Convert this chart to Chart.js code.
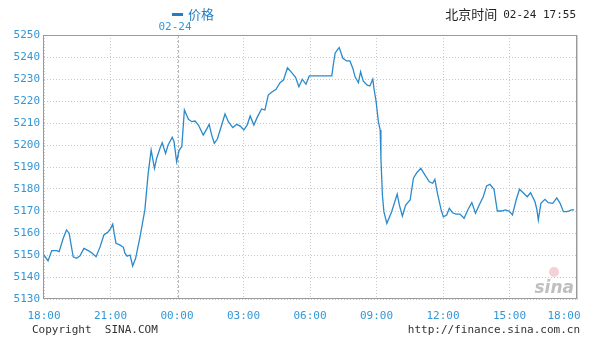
<!DOCTYPE html>
<html><head><meta charset="utf-8">
<script src="https://cdn.jsdelivr.net/npm/chart.js@4"></script>
<style>html,body{margin:0;padding:0;background:#fff}canvas{display:block}</style>
</head><body>
<canvas id="c" width="593" height="339"></canvas>
<script>
const seriesName = '价格';
const dateLabel = '02-24';
const headerText = '北京时间';
const headerTime = '02-24 17:55';
const xTickLabels = ['18:00','21:00','00:00','03:00','06:00','09:00','12:00','15:00','18:00'];
const yTicks = [5130,5140,5150,5160,5170,5180,5190,5200,5210,5220,5230,5240,5250];
const times = ['18:00','18:11','18:21','18:34','18:41','18:52','19:01','19:08','19:19','19:28','19:37','19:48','20:00','20:09','20:21','20:32','20:42','20:54','21:00','21:06','21:10','21:15','21:26','21:35','21:39','21:45','21:53','22:00','22:08','22:20','22:33','22:42','22:50','22:59','23:05','23:14','23:20','23:29','23:36','23:47','23:52','23:59',
'00:06','00:13','00:20','00:31','00:40','00:49','00:58','01:11','01:20','01:27','01:34','01:41','01:49','02:01','02:10','02:19','02:31','02:42','02:51','03:01','03:10','03:18','03:28','03:38','03:49','03:58','04:07','04:16','04:28','04:39','04:48','04:59','05:10','05:21','05:30','05:39','05:49','05:58','06:59','07:03','07:08','07:14','07:19','07:23','07:29','07:39','07:48','07:56','08:02','08:11','08:17','08:24','08:34','08:42','08:50','08:53','08:59','09:05','09:10','09:12','09:16','09:20','09:28','09:41','09:56','10:02','10:10','10:19','10:31','10:40','10:49','11:00','11:11','11:23','11:32','11:38','11:45','11:55','12:01','12:10','12:17','12:26','12:35','12:46','12:57','13:08','13:18','13:28','13:38','13:49','13:58','14:07','14:18','14:27','14:39','14:48','14:59','15:08','15:18','15:27','15:37','15:48','15:57','16:09','16:14','16:18','16:25','16:36','16:45','16:57','17:08','17:17','17:26','17:35','17:42','17:48','17:55'];
const prices = [5150,5147.3,5152,5152,5151.5,5157.6,5161.4,5159.9,5149.2,5148.5,5149.5,5153,5152,5151,5149.2,5153.8,5159.1,5160.6,5162,5164,5159.8,5155.3,5154.5,5153.5,5150.8,5149.5,5150,5145,5148.5,5158.3,5170.5,5187.1,5197.7,5189.4,5194,5198.5,5201,5196.2,5200,5203.5,5201.5,5192.4,
5197.7,5199.2,5215.9,5211.7,5210.6,5210.9,5209.1,5204.5,5207.1,5209.4,5204.5,5200.8,5202.6,5209.1,5214.1,5210.6,5207.9,5209.4,5208.6,5206.8,5209.1,5213.2,5209.1,5212.9,5216.4,5215.9,5222.7,5224,5225.3,5228.3,5229.5,5235.1,5233,5230.8,5226.5,5229.9,5227.6,5231.4,5231.4,5236.4,5241.7,5243.2,5244.3,5242.4,5239.4,5238.2,5238.2,5234.8,5231,5228.3,5233.3,5229.1,5227.3,5226.8,5229.9,5225.8,5219.7,5210.6,5206.8,5193.9,5177.3,5169.7,5164.4,5169.7,5177.7,5172.7,5167.7,5172.7,5175,5184.9,5187.4,5189.4,5186.4,5183.3,5182.6,5184.4,5178,5170.5,5167.4,5168.2,5171.2,5169.2,5168.6,5168.6,5166.7,5170.8,5173.8,5169,5172.7,5176.5,5181.4,5182.1,5179.9,5170,5170,5170.5,5170,5168.2,5175,5179.9,5178.3,5176.5,5178.3,5174.2,5170.8,5165.9,5173.5,5175.3,5173.8,5173.5,5176,5173.5,5169.7,5169.7,5170.1,5170.5,5170.5];

// minutes since session start (18:00 previous day)
function toOffset(t){const [h,m]=t.split(':').map(Number);return ((h*60+m)-1080+1440)%1440;}
const points = times.map((t,i)=>({x:toOffset(t),y:prices[i]}));
const xTickValues = xTickLabels.map((t,i)=> i===xTickLabels.length-1 ? 1440 : toOffset(t));

const BLUE='#3397d6';
const MONO='"DejaVu Sans Mono", monospace';

const overlay = {
  id:'overlay',
  beforeDatasetsDraw(chart){
    const {ctx, chartArea:a, scales:{x}} = chart;
    const px = Math.round(x.getPixelForValue(toOffset('00:00')))+0.5;
    ctx.save();
    ctx.strokeStyle='#b8b8b8'; ctx.lineWidth=1; ctx.setLineDash([3,2]);
    ctx.beginPath(); ctx.moveTo(px+1,a.top); ctx.lineTo(px+1,a.bottom); ctx.stroke();
    ctx.restore();
    ctx.save();
    ctx.fillStyle='rgba(240,170,180,0.55)';
    ctx.beginPath(); ctx.arc(a.right-22,a.bottom-27,5,0,Math.PI*2); ctx.fill();
    ctx.font='italic bold 17px "DejaVu Sans", sans-serif';
    ctx.fillStyle='rgba(170,170,170,0.75)';
    ctx.textAlign='right'; ctx.textBaseline='alphabetic';
    ctx.fillText('sina',a.right-2,a.bottom-6);
    ctx.restore();
  },
  afterDraw(chart){
    const {ctx, chartArea:a, scales:{x}} = chart;
    ctx.save();
    ctx.strokeStyle='#9a9a9a'; ctx.lineWidth=1;
    ctx.strokeRect(Math.round(a.left)-0.5, Math.round(a.top)+0.5, Math.round(a.right-a.left)+1, Math.round(a.bottom-a.top)-1);
    ctx.strokeStyle='#d0d0d0';
    ctx.beginPath(); ctx.moveTo(Math.round(a.right)+1.5,a.top); ctx.lineTo(Math.round(a.right)+1.5,a.bottom+1); ctx.stroke();
    ctx.font='11px '+MONO; ctx.fillStyle=BLUE; ctx.textBaseline='middle'; ctx.textAlign='center';
    xTickLabels.forEach((lab,i)=>{
      let p = x.getPixelForValue(xTickValues[i]);
      if(i===xTickLabels.length-1) p-=12;
      ctx.fillText(lab,p,316);
    });
    ctx.fillText(dateLabel, x.getPixelForValue(toOffset('00:00'))-2, 27);
    ctx.fillStyle='#1f7fc4';
    ctx.fillRect(172,13,11,3);
    ctx.font='13px "Noto Sans CJK SC", sans-serif'; ctx.textAlign='left';
    ctx.fillText(seriesName,188,14);
    ctx.fillStyle='#222'; ctx.textAlign='right';
    ctx.font='11px '+MONO;
    ctx.fillText(headerTime,576,15);
    const w = ctx.measureText(headerTime).width;
    ctx.font='13px "Noto Sans CJK SC", sans-serif';
    ctx.fillText(headerText,576-w-6,14);
    ctx.font='11px '+MONO; ctx.fillStyle='#333';
    ctx.textAlign='left'; ctx.fillText('Copyright  SINA.COM',32,330);
    ctx.textAlign='right'; ctx.fillText('http://finance.sina.com.cn',580,330);
    ctx.restore();
  }
};

new Chart(document.getElementById('c'),{
  type:'line',
  data:{datasets:[{label:seriesName,data:points,borderColor:'#2b8acb',borderWidth:1.3,pointRadius:0,fill:false,tension:0}]},
  options:{
    responsive:false, animation:false, devicePixelRatio:1,
    layout:{padding:{left:0,right:17,top:35,bottom:0}},
    plugins:{legend:{display:false},tooltip:{enabled:false}},
    scales:{
      x:{type:'linear',min:0,max:1440,
        afterBuildTicks(s){s.ticks=xTickValues.map(v=>({value:v}));},
        ticks:{display:false},
        grid:{color:'#c8c8c8',lineWidth:1,drawTicks:false},
        border:{display:false,dash:[1,2]},
        afterFit(s){s.height=40;}
      },
      y:{min:5130,max:5250,
        afterBuildTicks(s){s.ticks=yTicks.map(v=>({value:v}));},
        ticks:{color:BLUE,font:{family:MONO,size:11},padding:4,callback:v=>String(v)},
        grid:{color:'#c8c8c8',lineWidth:1,drawTicks:false},
        border:{display:false,dash:[1,2]},
        afterFit(s){s.width=44;}
      }
    }
  },
  plugins:[overlay]
});
</script>
</body></html>
